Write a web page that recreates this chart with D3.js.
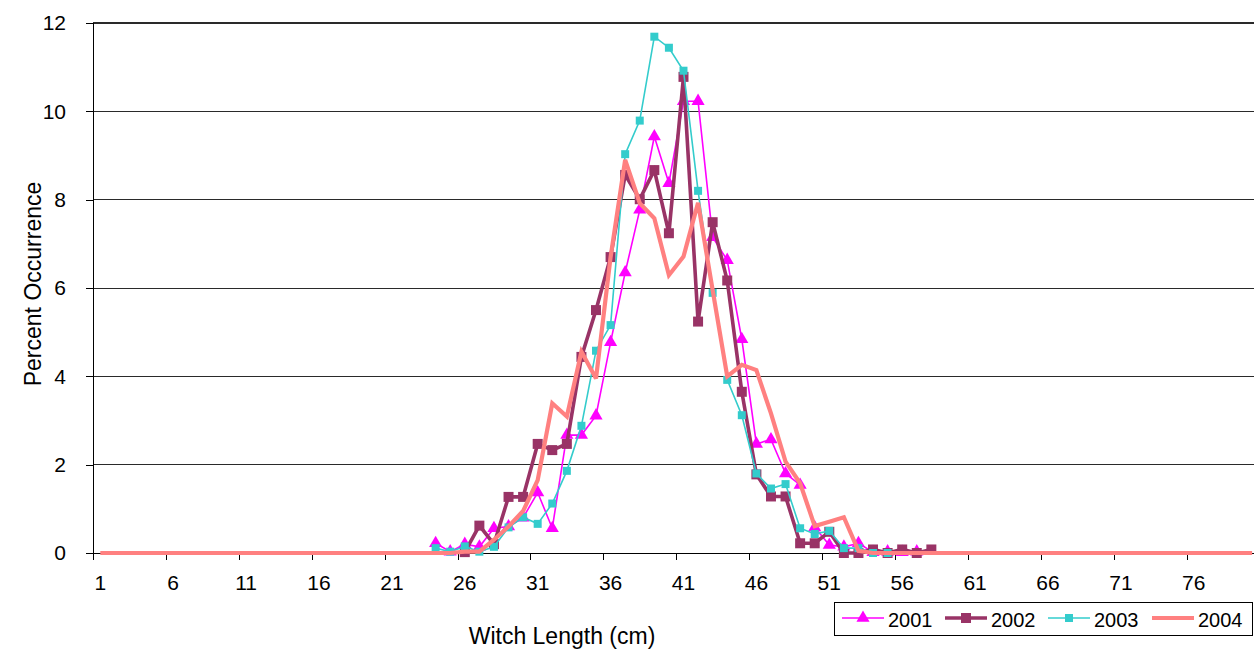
<!DOCTYPE html>
<html>
<head>
<meta charset="utf-8">
<script src="https://cdn.jsdelivr.net/npm/d3@7"></script>
<style>
  html, body { margin: 0; padding: 0; background: #fff; }
  svg { display: block; font-family: "Liberation Sans", Arial, sans-serif; }
</style>
</head>
<body>
<svg id="chart" width="1254" height="650"></svg>
<script>
// ---- Data ----
const categories = [1,2,3,4,5,6,7,8,9,10,11,12,13,14,15,16,17,18,19,20,
  21,22,23,24,25,26,27,28,29,30,31,32,33,34,35,36,37,38,39,40,
  41,42,43,44,45,46,47,48,49,50,51,52,53,54,55,56,57,58,59,60,
  61,62,63,64,65,66,67,68,69,70,71,72,73,74,75,76,77,78,79,80];
const xTickLabels = [1,6,11,16,21,26,31,36,41,46,51,56,61,66,71,76];
const yTickValues = [0,2,4,6,8,10,12];
const seriesNames = ["2001","2002","2003","2004"];

// first length (cm) of each series, then its values
const start2001 = 24;
const values2001 = [0.22,0.03,0.20,0.14,0.56,0.60,0.80,1.37,0.56,2.67,2.67,3.11,4.77,6.35,7.77,9.43,8.37,10.23,10.23,7.15,
  6.63,4.84,2.47,2.57,1.80,1.54,0.58,0.18,0.14,0.22,0.02,0.03,0.02,0.03];
const start2002 = 26;
const values2002 = [0.02,0.62,0.20,1.27,1.27,2.47,2.33,2.47,4.44,5.50,6.70,8.56,8.01,8.67,7.24,10.78,5.24,7.49,6.17,3.65,
  1.78,1.28,1.28,0.22,0.22,0.48,0,0,0.08,0,0.08,0,0.08];
const start2003 = 24;
const values2003 = [0.11,0.03,0.15,0.03,0.14,0.58,0.81,0.66,1.12,1.86,2.88,4.58,5.16,9.03,9.79,11.69,11.44,10.92,8.20,5.89,
  3.92,3.12,1.80,1.46,1.56,0.56,0.43,0.50,0.11,0.11,0,0];
const start2004 = 1;
const values2004 = [0,0,0,0,0,0,0,0,0,0,0,0,0,0,0,0,0,0,0,0,
  0,0,0,0,0,0.03,0.03,0.30,0.60,0.95,1.65,3.39,3.09,4.56,3.95,6.70,8.90,7.92,7.58,6.29,
  6.71,7.93,5.95,4.00,4.26,4.14,3.16,2.07,1.58,0.61,0.71,0.81,0.05,0,0,0,0,0,0,0,
  0,0,0,0,0,0,0,0,0,0,0,0,0,0,0,0,0,0,0,0];

// ---- Styles ----
const styles = {
  "2001": { color: "#FF00FF", width: 1.6, marker: "triangle", size: 75 },
  "2002": { color: "#993366", width: 3.6, marker: "square", size: 100 },
  "2003": { color: "#33CCCC", width: 1.6, marker: "square", size: 64 },
  "2004": { color: "#FF8080", width: 4.2, marker: null, size: 0 }
};

const series = [
  { name: "2001", start: start2001, values: values2001 },
  { name: "2002", start: start2002, values: values2002 },
  { name: "2003", start: start2003, values: values2003 },
  { name: "2004", start: start2004, values: values2004 }
].map(s => ({ name: s.name, points: s.values.map((v, i) => ({ c: s.start + i, v })) }));

// ---- Layout ----
const svg = d3.select("#chart");
const plotLeft = 93, bandW = 14.58, plotTop = 23, plotBottom = 553;
const x = d3.scaleBand().domain(categories).range([plotLeft, plotLeft + bandW * categories.length]).padding(0);
const y = d3.scaleLinear().domain([0, 12]).range([plotBottom, plotTop]);
const W = 1254;

// gridlines
svg.append("g").selectAll("line").data(yTickValues.filter(d => d > 0)).join("line")
  .attr("x1", plotLeft).attr("x2", W + 10)
  .attr("y1", d => y(d)).attr("y2", d => y(d))
  .attr("stroke", "#2a2a2a").attr("stroke-width", d => d === 12 ? 1.6 : 1)
  .attr("shape-rendering", "crispEdges");

// y axis
const yAxis = svg.append("g").attr("transform", `translate(${plotLeft},0)`)
  .call(d3.axisLeft(y).tickValues(yTickValues).tickSize(7).tickPadding(20));
yAxis.select(".domain").attr("stroke", "#000").attr("shape-rendering", "crispEdges");
yAxis.selectAll(".tick line").attr("stroke", "#000").attr("shape-rendering", "crispEdges");
yAxis.selectAll("text").attr("font-size", 21).attr("fill", "#000")
  .attr("font-family", "Liberation Sans, Arial, sans-serif");

// x axis line
const xAxis = svg.append("g").attr("transform", `translate(0,${plotBottom})`)
  .call(d3.axisBottom(x).tickValues(xTickLabels).tickSize(0).tickPadding(22));
xAxis.select(".domain").attr("d", `M${plotLeft},0H${W + 10}`).attr("stroke", "#000").attr("shape-rendering", "crispEdges");
xAxis.selectAll("text").attr("font-size", 21).attr("fill", "#000")
  .attr("font-family", "Liberation Sans, Arial, sans-serif");
// boundary tick marks every 5 categories
svg.append("g").selectAll("line").data(xTickLabels).join("line")
  .attr("x1", d => Math.round(x(d)) + 0.5).attr("x2", d => Math.round(x(d)) + 0.5)
  .attr("y1", plotBottom).attr("y2", plotBottom + 7)
  .attr("stroke", "#000");

// series
const line = d3.line().x(d => x(d.c) + x.bandwidth() / 2).y(d => y(d.v));
const g = svg.append("g");
series.forEach(s => {
  const st = styles[s.name];
  g.append("path").datum(s.points)
    .attr("d", line).attr("fill", "none")
    .attr("stroke", st.color).attr("stroke-width", st.width)
    .attr("stroke-linejoin", "miter").attr("stroke-miterlimit", 3);
  if (st.marker) {
    const sym = d3.symbol().type(st.marker === "triangle" ? d3.symbolTriangle : d3.symbolSquare).size(st.size);
    g.append("g").selectAll("path").data(s.points).join("path")
      .attr("d", sym)
      .attr("transform", d => `translate(${x(d.c) + x.bandwidth() / 2},${y(d.v)})`)
      .attr("fill", st.color);
  }
});

// axis titles
svg.append("text").attr("x", 562).attr("y", 644).attr("text-anchor", "middle")
  .attr("font-size", 23).attr("fill", "#000").text("Witch Length (cm)");
svg.append("text").attr("transform", "translate(41,284) rotate(-90)").attr("text-anchor", "middle")
  .attr("font-size", 23).attr("fill", "#000").text("Percent Occurrence");

// legend
const lg = svg.append("g");
lg.append("rect").attr("x", 834.5).attr("y", 602.5).attr("width", 418).attr("height", 33)
  .attr("fill", "#fff").attr("stroke", "#000").attr("stroke-width", 1);
const legendX = [842, 945, 1048, 1152];
seriesNames.forEach((name, i) => {
  const st = styles[name];
  const lx = legendX[i];
  lg.append("line").attr("x1", lx).attr("x2", lx + 42).attr("y1", 618).attr("y2", 618)
    .attr("stroke", st.color).attr("stroke-width", st.width);
  if (st.marker) {
    lg.append("path")
      .attr("d", d3.symbol().type(st.marker === "triangle" ? d3.symbolTriangle : d3.symbolSquare).size(st.size)())
      .attr("transform", `translate(${lx + 21},618)`).attr("fill", st.color);
  }
  lg.append("text").attr("x", lx + 46).attr("y", 627).attr("font-size", 20).attr("fill", "#000").text(name);
});
</script>
</body>
</html>
